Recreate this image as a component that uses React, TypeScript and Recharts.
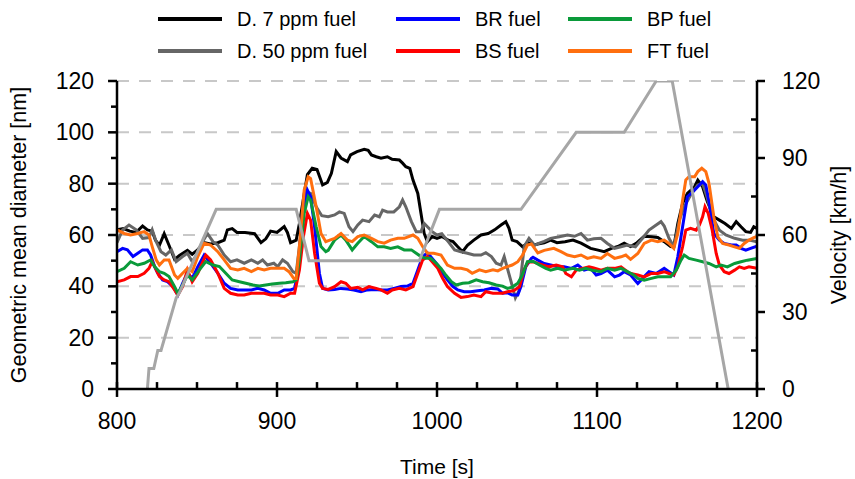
import React from 'react'
import { LineChart, Line, XAxis, YAxis, ReferenceLine } from 'recharts'

const FONT = '"Liberation Sans", Arial, sans-serif'

// [time s, geometric mean diameter nm]
const d7ppm: [number, number][] = [
  [800, 62], [804, 62.5], [808, 61.5], [812, 61], [816, 63.5], [819, 62], [822, 61.5], [824, 58], [826.5, 56], [829.5, 60.5],
  [832.5, 56], [836, 50.5], [839, 52], [844, 54], [847, 52.5], [850, 54], [854.5, 57], [858.5, 56.5], [863, 57], [867, 58],
  [869, 62], [872, 62.5], [875, 61], [880, 61], [886, 60.5], [890, 57], [893, 58.5], [896, 61.5], [900, 61], [904.5, 63.3],
  [906.5, 61], [908.5, 57], [912, 58], [914, 64.5], [917, 76], [919, 83.5], [922, 86], [925, 85.5], [928.5, 79.5], [931.5, 80.5],
  [934, 84], [937, 92.5], [940, 90], [944, 88.6], [946, 91.2], [950, 92.5], [954.5, 93.4], [957, 93], [959, 91.2], [962, 90.5],
  [965, 89.9], [969, 90.5], [972, 89.5], [976.5, 89.2], [978.5, 88], [980.5, 86.6], [983, 86], [985, 81.4], [988, 76.2], [990, 68.4],
  [992, 60.6], [994, 57.4], [997, 59.4], [1000, 58.7], [1003, 59.4], [1007, 58], [1010, 57.4], [1013, 55.4], [1016, 53.5], [1019, 56],
  [1023, 58], [1027.5, 60], [1032, 60.6], [1036, 62], [1040, 63.9], [1043, 65.2], [1045, 62.6], [1047, 58], [1050, 57.4], [1053.5, 55.4],
  [1057, 57], [1061, 56.1], [1063, 56.5], [1067, 57], [1071, 58], [1075, 57], [1080, 57.4], [1085, 58], [1090, 56.8], [1096, 54.8],
  [1100, 54.2], [1104.5, 53.5], [1109, 54.8], [1113, 55.5], [1117, 56.8], [1121, 55.5], [1125, 57], [1129.5, 59.5], [1134, 59.3], [1138, 59],
  [1142, 57.4], [1146, 55.5], [1148, 55.4], [1150.5, 64.5], [1153.5, 72.3], [1156.5, 76.2], [1161, 78.8], [1163, 81.4], [1166, 78.8], [1169, 73],
  [1173, 67.1], [1176.5, 65.8], [1180, 64.5], [1184, 62.6], [1187, 65.2], [1190, 63.2], [1193, 61.3], [1196, 61], [1198, 63.2], [1200, 62.6],
]

const d50ppm: [number, number][] = [
  [800, 57], [803.5, 62], [807.5, 63.9], [812, 62], [816, 58.7], [820, 59], [822, 62], [824.5, 57.4], [827.5, 53.5], [830.5, 52.2],
  [834, 54.2], [837, 49.6], [841, 51.6], [844, 52.9], [847, 49.6], [850.5, 52.9], [853.5, 57.4], [856.5, 60.6], [860, 57.4], [863, 56.1],
  [867, 52.2], [871, 49.6], [875, 50.3], [879.5, 49], [884, 50.3], [888, 49], [891, 50.3], [894, 48.3], [898, 49], [900.5, 47.7],
  [903.5, 50.3], [906.5, 49], [910, 45.7], [912, 45.1], [914, 55.5], [918, 76.9], [921, 76.2], [924.5, 71], [928, 67.5], [932, 67.1],
  [936, 67.8], [939, 69], [942, 68.4], [945, 63.2], [947.5, 61.3], [950.5, 63.9], [953.5, 65.8], [957.5, 65.2], [961, 67.8], [964, 67.1],
  [966, 69.7], [969, 69], [973, 69], [976.5, 71], [978.5, 73.6], [980.5, 71], [984, 65.2], [987, 61.3], [990, 61.3], [992, 64.5],
  [994, 63.2], [997, 61.3], [1000, 60], [1003, 60.5], [1007, 57.4], [1011, 54.2], [1015, 53.5], [1019, 52.9], [1023, 52.2], [1027.5, 52.2],
  [1030.5, 53.1], [1034, 51.6], [1037, 49], [1040, 48.3], [1042, 51.6], [1044, 47], [1046, 42.5], [1049, 35.5], [1051.5, 38.6], [1054.5, 55.5],
  [1057.5, 58.7], [1061, 56], [1064, 56.8], [1067, 57.5], [1071, 58.7], [1076.5, 59.3], [1081.5, 60], [1086, 59.5], [1090, 60.6], [1094, 58],
  [1098, 58.5], [1102.5, 58.7], [1106.5, 56.7], [1111, 54.8], [1115, 55.4], [1119, 56.1], [1124, 55.4], [1127.5, 58], [1132.5, 61.9], [1137, 63.9],
  [1140, 65.2], [1142, 63.5], [1145, 58.7], [1148, 55.4], [1151.5, 65.8], [1154.5, 71], [1158.5, 75.6], [1163, 79.5], [1166, 80.1], [1169, 74.3],
  [1172, 67.1], [1176.5, 61.9], [1180.5, 60], [1186, 58.7], [1191, 58], [1195, 58], [1200, 57.4],
]

const brFuel: [number, number][] = [
  [800, 53.5], [803.5, 54.8], [806.5, 54.2], [810, 51.6], [813, 52.9], [816, 54.2], [819, 54.2], [821, 52.2], [823.5, 47.7], [825.5, 45.1],
  [828.5, 42.5], [831.5, 41.8], [835, 39.9], [838, 36.6], [841, 41.2], [844, 45.1], [847, 43.1], [850.5, 47.7], [854.5, 52.2], [858.5, 49],
  [863, 45.1], [867, 41.2], [871, 39.2], [875.5, 38.6], [879.5, 38.6], [884, 38.6], [888, 39.2], [892, 38.6], [896, 37.3], [900.5, 37.3],
  [904.5, 38.6], [908.5, 38.6], [911, 39.2], [913, 45.1], [916, 69.7], [919, 77.5], [921, 74.9], [923.5, 63.2], [926.5, 45.1], [928.5, 39.2],
  [932, 38.6], [936, 38.8], [940, 39.2], [944, 39], [948, 38.6], [952.5, 37.9], [956.5, 38.6], [961, 38.8], [965, 38.6], [969, 38.6],
  [973, 39.2], [977.5, 39.9], [981.5, 40.1], [985, 41.2], [988, 46.4], [991, 51.6], [994, 53.1], [997, 50.9], [1000.5, 48.3], [1003.5, 45.1],
  [1006.5, 42.5], [1010, 39.9], [1013, 38.6], [1017, 37.9], [1021, 37.9], [1025.5, 38.3], [1029.5, 38.6], [1034, 39.2], [1038, 39], [1041, 37.3],
  [1044, 37.5], [1047, 36.6], [1050.5, 36.6], [1052.5, 40], [1055.5, 47.7], [1059, 50.9], [1060, 51.3], [1063, 50.2], [1067, 48.9], [1071, 48.3],
  [1075.5, 47.6], [1079.5, 47.6], [1084, 47], [1088, 48.3], [1092, 46.3], [1096, 47], [1099.5, 44.4], [1102.5, 45], [1106.5, 46.3], [1111, 43.7],
  [1114, 44.4], [1117, 45.7], [1121, 44.4], [1125.5, 41.1], [1128.5, 43.1], [1132.5, 45.7], [1137, 45], [1142, 47], [1145, 45.7], [1148, 44.4],
  [1150.5, 51.5], [1153.5, 63.2], [1156.5, 74.9], [1160, 76.9], [1163, 78.8], [1166, 80.8], [1168, 79.5], [1170, 73], [1173, 60.6], [1176.5, 58],
  [1179.5, 56.7], [1184, 56.1], [1187, 56.1], [1190, 54.8], [1193, 54.1], [1196, 54.8], [1200, 55.7],
]

const bsFuel: [number, number][] = [
  [800, 41.8], [804.5, 42.5], [808.5, 43.8], [813, 43.8], [817, 45.1], [820, 47], [822, 49.6], [824.5, 46.4], [826.5, 43.8], [829.5, 42.5],
  [832.5, 41.8], [836, 38.6], [838, 36.6], [841, 39.9], [844, 46.4], [847, 41.8], [850.5, 45.1], [855.5, 52.2], [858.5, 50.3], [863, 45.1],
  [867, 39.2], [871, 37.3], [875.5, 36.6], [879.5, 36.6], [884, 37.3], [888, 37.3], [892, 37.3], [896, 36.6], [900.5, 36.6], [904.5, 36],
  [908.5, 37.3], [911, 37.3], [914, 46.4], [916.5, 59.4], [919, 68.4], [921, 65.8], [923.5, 52.9], [926.5, 41.2], [928.5, 39.2], [932, 38.8],
  [936, 39.9], [940, 41.8], [943, 41.2], [946, 39.2], [950.5, 39.6], [953.5, 38.6], [957.5, 39.9], [962, 39.2], [965, 38.6], [969, 37.3],
  [972, 38.6], [976.5, 39.2], [980.5, 38.6], [985, 39.9], [988, 45.1], [991, 50.3], [994, 51.6], [997, 49.6], [1000.5, 47], [1003.5, 43.1],
  [1006.5, 39.9], [1011, 37.3], [1015, 35.7], [1019, 36], [1023, 36.6], [1027.5, 36], [1030.5, 37.9], [1035, 37.3], [1038, 37.3], [1041, 37.3],
  [1044, 37.9], [1048, 38.3], [1051.5, 39.8], [1054.5, 46.5], [1057, 49.5], [1060, 49.6], [1063, 48.9], [1066, 48.3], [1070, 47.6], [1074.5, 48.3],
  [1078.5, 47.6], [1080.5, 45], [1084, 43.7], [1087, 46.3], [1091, 47], [1095, 47.6], [1098, 47.2], [1102.5, 46.3], [1106.5, 47], [1111, 47],
  [1115, 47.6], [1119, 45.7], [1121, 45], [1125.5, 44.4], [1129.5, 43.7], [1134, 45], [1138, 45], [1142, 45.7], [1145, 45], [1148, 44.4],
  [1150.5, 47.6], [1153.5, 55.4], [1155.5, 61.9], [1158.5, 62.6], [1162, 61.9], [1164, 63.9], [1166, 67.1], [1167.5, 71], [1169.5, 68.4], [1172, 61.9],
  [1174.5, 52.8], [1176.5, 48.3], [1179.5, 45.7], [1182.5, 45], [1186, 46.3], [1189, 47.6], [1192, 47], [1195, 47.6], [1200, 47],
]

const bpFuel: [number, number][] = [
  [800, 45.7], [804.5, 47], [808.5, 49.6], [813, 48.3], [817, 49], [821, 50.3], [823.5, 47.7], [826.5, 45.7], [829.5, 45.1], [832.5, 43.8],
  [836, 39.9], [838, 37.3], [841, 40.5], [844, 44.4], [847, 42.5], [851.5, 46.4], [855.5, 49.6], [860, 48.3], [864, 47.7], [868, 45.1],
  [872, 42.5], [876.5, 41.8], [880.5, 41.2], [885, 40.5], [889, 40.1], [893, 40.5], [897, 40.9], [901.5, 41.2], [905.5, 41.4], [910, 41.8],
  [912, 42.5], [914, 50.3], [917, 68.4], [919.5, 74.9], [921, 73.6], [924.5, 63.2], [927.5, 55.5], [930.5, 53.5], [932, 54], [936, 58],
  [940, 60], [943, 58], [947, 54.2], [950.5, 56.8], [954.5, 59.4], [959, 57.4], [963, 55.4], [967, 55.4], [971, 54.8], [975.5, 55.4],
  [979.5, 54.2], [984, 54.2], [987, 52.9], [990, 51.6], [993, 50.9], [996, 50.9], [999.5, 49], [1002.5, 47], [1005.5, 44.4], [1009, 41.8],
  [1012, 40.5], [1016, 41.2], [1020, 41.4], [1024.5, 42.5], [1028.5, 41.8], [1032.5, 41.4], [1037, 40.5], [1041, 40.1], [1044, 39.2], [1047, 39.7],
  [1050.5, 41.2], [1053, 44], [1056.5, 49.6], [1060, 49.8], [1064, 48.3], [1068, 47], [1071, 46.3], [1075.5, 47], [1079.5, 46.3], [1085, 47],
  [1089, 46.3], [1093, 47], [1097, 46.3], [1102.5, 45.7], [1106.5, 47], [1111, 46.3], [1115, 47], [1119, 45.7], [1123, 44.4], [1125.5, 43.1],
  [1129.5, 42.4], [1134, 43.1], [1138, 43.7], [1142, 43.7], [1146, 43.7], [1149.5, 46.3], [1152.5, 50.2], [1154.5, 52.2], [1157.5, 50.9], [1162, 50.2],
  [1166, 49.6], [1170, 48.9], [1174.5, 47.6], [1177.5, 48.3], [1181.5, 47.6], [1186, 48.9], [1190, 49.6], [1194, 50.2], [1200, 50.9],
]

const ftFuel: [number, number][] = [
  [800, 62], [804.5, 60.6], [808.5, 60], [813, 60.6], [817, 61.3], [820, 60], [822, 55.5], [824.5, 50.3], [826.5, 48.3], [829.5, 50.3],
  [832.5, 50.3], [836, 44.4], [838, 43.1], [841, 45.1], [844, 47], [847, 45.7], [850.5, 51.6], [854.5, 56.8], [858.5, 56.1], [863, 53.5],
  [867, 50.3], [871, 47], [875.5, 46.4], [879.5, 47], [884, 45.7], [888, 47], [892, 46.4], [896, 47], [900.5, 47], [904.5, 47],
  [907.5, 45.7], [910.5, 43.1], [912, 43.1], [914, 55.5], [917, 77.5], [919.5, 82.7], [921, 82], [924.5, 71], [927.5, 60.6], [930.5, 57.4],
  [933, 58], [936, 58.7], [940, 60.6], [944, 58], [947, 57.4], [950.5, 59.4], [954.5, 60], [959, 58.7], [963, 57.4], [967, 56.8],
  [971, 58], [975.5, 58.7], [979.5, 58.7], [985, 60], [988, 58.7], [991, 55.5], [994, 52.9], [998, 52.9], [1002.5, 52.2], [1006.5, 48.3],
  [1011, 47], [1015, 47], [1019, 46.4], [1022, 45.1], [1026.5, 46.4], [1030.5, 45.7], [1035, 46.4], [1038, 46], [1041, 47], [1044, 47.7],
  [1047, 48.3], [1050.5, 49.6], [1053.5, 52.2], [1056.5, 56.1], [1059, 56.5], [1063, 53], [1067, 54], [1073, 54.8], [1077.5, 53.5], [1081.5, 52.2],
  [1086, 51.5], [1090, 52.2], [1094, 50.9], [1098, 51.5], [1102.5, 50.9], [1106.5, 52.8], [1111, 50.9], [1115, 51.5], [1118, 52.2], [1121, 50.5],
  [1125.5, 52.8], [1129.5, 56.7], [1134, 58], [1138, 57.4], [1142, 58], [1145, 56.7], [1148, 54.8], [1150.5, 60.6], [1153.5, 73.6], [1155.5, 81.4],
  [1157.5, 82.7], [1161, 82.7], [1163, 84.7], [1165.5, 86], [1168, 84.7], [1170, 80.1], [1173, 67.1], [1175.5, 59.3], [1178.5, 56.7], [1182.5, 56.1],
  [1186, 55.4], [1189, 54.8], [1192, 56.7], [1195, 58], [1198, 59], [1200, 59.5],
]

// [time s, velocity km/h]
const velocity: [number, number][] = [
  [819, 0], [820, 8], [823, 8], [825.5, 15], [827.5, 15], [837, 35.5], [839, 37.5], [862, 70], [912, 70], [920, 50],
  [989, 50], [1001.5, 70], [1052.5, 70], [1087, 100], [1117, 100], [1137, 120], [1147, 120], [1182, 0],
]

const xMajorTicks = [800, 900, 1000, 1100, 1200]
const xMinorTicks = [825, 850, 875, 925, 950, 975, 1025, 1050, 1075, 1125, 1150, 1175]
const leftMajorTicks = [0, 20, 40, 60, 80, 100, 120]
const leftMinorTicks = [10, 30, 50, 70, 90, 110]
const rightMajorTicks = [0, 30, 60, 90, 120]
const rightMinorTicks = [15, 45, 75, 105]
const gridValues = [20, 40, 60, 80, 100, 120]

const series = [
  { name: 'D. 7 ppm fuel', color: '#000000', points: d7ppm },
  { name: 'D. 50 ppm fuel', color: '#666666', points: d50ppm },
  { name: 'BR fuel', color: '#0000ff', points: brFuel },
  { name: 'BS fuel', color: '#ff0000', points: bsFuel },
  { name: 'BP fuel', color: '#0a9a3a', points: bpFuel },
  { name: 'FT fuel', color: '#ff6f0f', points: ftFuel },
]

const toRows = (pts: [number, number][]) => pts.map(([t, v]) => ({ t, v }))

const AXIS_W = 2.5
const axisLine = { stroke: '#000', strokeWidth: AXIS_W }
const tickText = { fill: '#000', fontSize: 23, fontFamily: FONT }

// tick mark lengths in data units (1.6 px per s, ~2.57 px per nm)
const X_OUT = 3.1
const X_IN = 2.7
const Y_MAJOR = 5.6
const Y_MINOR = 3.75
const Y_RIGHT_OUT = 5

const legendCols = [158, 396, 568]
const legendRows = [19, 51]

function LegendOverlay() {
  return (
    <svg width={855} height={70} style={{ position: 'absolute', left: 0, top: 0 }}>
      {series.map((s, i) => {
        const x = legendCols[Math.floor(i / 2)]
        const y = legendRows[i % 2]
        return (
          <g key={s.name}>
            <line x1={x} x2={x + 64} y1={y} y2={y} stroke={s.color} strokeWidth={4} />
            <text x={x + 79} y={y} dy="0.36em" fontFamily={FONT} fontSize={20} fill="#000">
              {s.name}
            </text>
          </g>
        )
      })}
    </svg>
  )
}

const verticalTitle = (text: string, cx: number) => (p: any) => {
  const cy = p.viewBox.y + p.viewBox.height / 2
  return (
    <text
      x={cx}
      y={cy}
      dy="0.36em"
      textAnchor="middle"
      transform={`rotate(-90, ${cx}, ${cy})`}
      fontFamily={FONT}
      fontSize={21.5}
      fill="#000"
    >
      {text}
    </text>
  )
}

const tickSeg = (key: string, yAxisId: string, a: { x: number; y: number }, b: { x: number; y: number }) => (
  <ReferenceLine
    key={key}
    xAxisId="t"
    yAxisId={yAxisId}
    segment={[a, b]}
    ifOverflow="visible"
    stroke="#000"
    strokeWidth={AXIS_W}
  />
)

export default function App() {
  return (
    <div style={{ position: 'absolute', left: 0, top: 0, width: 855, height: 479, background: '#fff' }}>
      <LineChart width={855} height={479} margin={{ top: 81, right: 0, bottom: 0, left: 0 }}>
        <XAxis
          xAxisId="t"
          dataKey="t"
          type="number"
          domain={[800, 1200]}
          ticks={xMajorTicks}
          interval={0}
          height={90}
          allowDataOverflow
          tickSize={8}
          tickMargin={16}
          tickLine={false}
          axisLine={axisLine}
          tick={tickText}
          label={{
            content: (p: any) => (
              <text
                x={p.viewBox.x + p.viewBox.width / 2}
                y={p.viewBox.y + 77}
                dy="0.36em"
                textAnchor="middle"
                fontFamily={FONT}
                fontSize={21}
                fill="#000"
              >
                Time [s]
              </text>
            ),
          }}
        />
        <YAxis
          yAxisId="left"
          orientation="left"
          domain={[0, 120]}
          ticks={leftMajorTicks}
          interval={0}
          width={117}
          allowDataOverflow
          tickSize={8}
          tickMargin={15}
          tickLine={false}
          axisLine={axisLine}
          tick={tickText}
          label={{ content: verticalTitle('Geometric mean diameter [nm]', 18) }}
        />
        <YAxis
          yAxisId="right"
          orientation="right"
          domain={[0, 120]}
          ticks={rightMajorTicks}
          interval={0}
          width={98}
          allowDataOverflow
          tickSize={8}
          tickMargin={17}
          tickLine={false}
          axisLine={axisLine}
          tick={tickText}
          label={{ content: verticalTitle('Velocity [km/h]', 838) }}
        />
        {gridValues.map((g) => (
          <ReferenceLine
            key={`g${g}`}
            xAxisId="t"
            yAxisId="left"
            y={g}
            stroke="#c8c8c8"
            strokeWidth={2}
            strokeDasharray="12 10"
          />
        ))}
        {series.map((s) => (
          <Line
            key={s.name}
            xAxisId="t"
            yAxisId="left"
            data={toRows(s.points)}
            dataKey="v"
            name={s.name}
            type="linear"
            stroke={s.color}
            strokeWidth={3}
            dot={false}
            isAnimationActive={false}
          />
        ))}
        <Line
          xAxisId="t"
          yAxisId="right"
          data={toRows(velocity)}
          dataKey="v"
          name="Velocity"
          type="linear"
          stroke="#a6a6a6"
          strokeWidth={3}
          dot={false}
          isAnimationActive={false}
        />
        {/* axis tick marks */}
        {xMajorTicks.map((t) => tickSeg(`xM${t}`, 'left', { x: t, y: -X_OUT }, { x: t, y: X_IN }))}
        {xMinorTicks.map((t) => tickSeg(`xm${t}`, 'left', { x: t, y: 0 }, { x: t, y: X_IN }))}
        {leftMajorTicks.map((v) => tickSeg(`lM${v}`, 'left', { x: 800 - Y_MAJOR, y: v }, { x: 800, y: v }))}
        {leftMinorTicks.map((v) => tickSeg(`lm${v}`, 'left', { x: 800 - Y_MINOR, y: v }, { x: 800, y: v }))}
        {rightMajorTicks.map((v) => tickSeg(`rM${v}`, 'right', { x: 1200, y: v }, { x: 1200 + Y_RIGHT_OUT, y: v }))}
        {rightMinorTicks.map((v) => tickSeg(`rm${v}`, 'right', { x: 1200 - Y_MINOR, y: v }, { x: 1200, y: v }))}
      </LineChart>
      <LegendOverlay />
    </div>
  )
}
